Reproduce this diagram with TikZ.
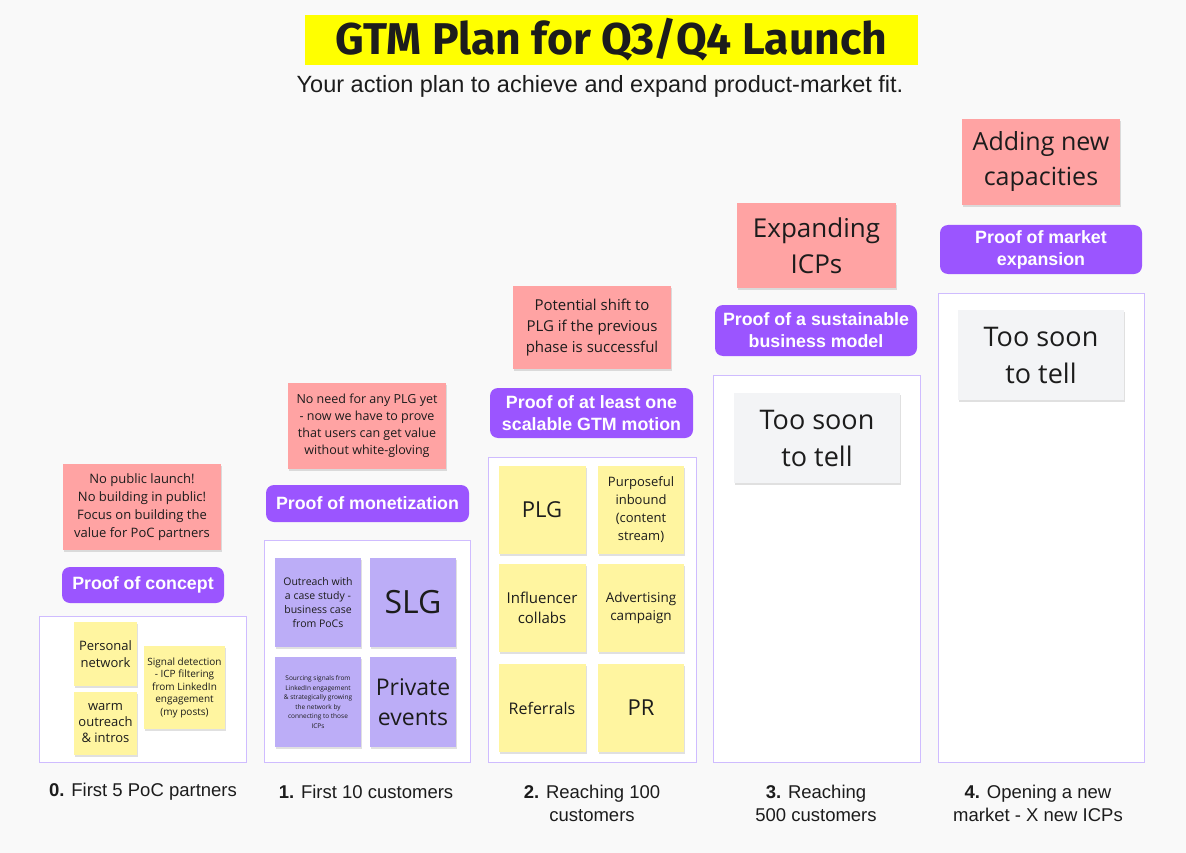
\documentclass[tikz,border=0pt]{standalone}
\usepackage{fontspec}
\setmainfont{Open Sans}
\newfontfamily\robo{Liberation Sans}
\newfontfamily\titlefont{Fira Sans}
\usetikzlibrary{shadows}
\definecolor{bg}{HTML}{F9F9F9}
\definecolor{ink}{HTML}{1C1C1C}
\definecolor{redsticky}{HTML}{FFA3A3}
\definecolor{pillpurple}{HTML}{9B55FF}
\definecolor{lav}{HTML}{CFBCFF}
\definecolor{yelsticky}{HTML}{FFF5A0}
\definecolor{vioSticky}{HTML}{BCADF7}
\definecolor{graysticky}{HTML}{F3F4F6}
\definecolor{titleyellow}{HTML}{FFFF00}
\newcommand{\fs}[2]{\fontsize{#1}{#2}\selectfont}
\tikzset{
  note/.style={inner sep=0pt, align=center, text=ink,
    drop shadow={shadow xshift=1pt, shadow yshift=-2pt, opacity=0.12, fill=black}},
  rednote/.style={note, fill=redsticky},
  yelnote/.style={note, fill=yelsticky},
  vionote/.style={note, fill=vioSticky},
  graynote/.style={note, fill=graysticky},
  pill/.style={fill=pillpurple, rounded corners=8pt, inner sep=0pt, align=center,
    text=white, font=\robo\bfseries\fs{17.8}{22}},
  stage/.style={draw=lav, line width=1pt, fill=white, inner sep=0pt},
  caption/.style={align=center, text=ink, font=\robo\fs{18.5}{23}}
}
\begin{document}
\begin{tikzpicture}[x=1pt,y=-1pt]
\useasboundingbox[fill=bg] (0,0) rectangle (1186,853);

% title
\node[fill=titleyellow, minimum width=613pt, minimum height=50pt, inner sep=0pt,
  font=\titlefont\bfseries\fs{44.5}{48}, text=ink] (title) at (611.5,40) {GTM Plan for Q3/Q4 Launch};
\node[font=\robo\fs{23.5}{28}, text=ink] (subtitle) at (600,86) {Your action plan to achieve and expand product-market fit.};

% ---------- column 0
\node[rednote, minimum width=158pt, minimum height=86pt, font=\fs{13}{18}] (r0) at (142,507)
  {No public launch!\\No building in public!\\Focus on building the\\value for PoC partners};
\node[pill, minimum width=162pt, minimum height=36pt] (p0) at (143,585) {Proof of concept};
\node[stage, minimum width=207pt, minimum height=146pt] (b0) at (142.5,689) {};
\node[yelnote, minimum width=63pt, minimum height=64pt, font=\fs{13}{17}] (s0a) at (105.5,654) {Personal\\network};
\node[yelnote, minimum width=63pt, minimum height=63pt, font=\fs{13}{16}] (s0b) at (105.5,723.5) {warm\\outreach\\\& intros};
\node[yelnote, minimum width=81pt, minimum height=83pt, font=\fs{10}{12.5}] (s0c) at (184.5,687.5)
  {Signal detection\\- ICP filtering\\from LinkedIn\\engagement\\(my posts)};
\node[caption] (l0) at (143,792) {\textbf{0.} First 5 PoC partners};

% ---------- column 1
\node[rednote, minimum width=158pt, minimum height=86pt, font=\fs{12.5}{17}] (r1) at (367,426)
  {No need for any PLG yet\\- now we have to prove\\that users can get value\\without white-gloving};
\node[pill, minimum width=203pt, minimum height=37pt] (p1) at (367.5,503.5) {Proof of monetization};
\node[stage, minimum width=206pt, minimum height=222pt] (b1) at (367,651) {};
\node[vionote, minimum width=86pt, minimum height=89pt, font=\fs{10.5}{14}] (s1a) at (318,602.5)
  {Outreach with\\a case study -\\business case\\from PoCs};
\node[vionote, minimum width=86pt, minimum height=89pt, font=\fs{32}{36}] (s1b) at (413,602.5) {SLG};
\node[vionote, minimum width=86pt, minimum height=90pt, font=\fs{6.5}{9.5}] (s1c) at (318,702)
  {Sourcing signals from\\LinkedIn engagement\\\& strategically growing\\the network by\\connecting to those\\ICPs};
\node[vionote, minimum width=86pt, minimum height=90pt, font=\fs{23}{30}] (s1d) at (413,702) {Private\\events};
\node[caption] (l1) at (366,792) {\textbf{1.} First 10 customers};

% ---------- column 2
\node[rednote, minimum width=158pt, minimum height=83pt, font=\fs{15}{21}] (r2) at (592,327.5)
  {Potential shift to\\PLG if the previous\\phase is successful};
\node[pill, minimum width=203pt, minimum height=50pt] (p2) at (591.5,413) {Proof of at least one\\scalable GTM motion};
\node[stage, minimum width=208pt, minimum height=305pt] (b2) at (592,609.5) {};
\node[yelnote, minimum width=87pt, minimum height=88pt, font=\fs{22}{26}] (s2a) at (542,510) {PLG};
\node[yelnote, minimum width=86pt, minimum height=88pt, font=\fs{13}{18}] (s2b) at (641,510)
  {Purposeful\\inbound\\(content\\stream)};
\node[yelnote, minimum width=87pt, minimum height=88pt, font=\fs{15}{20}] (s2c) at (542,608) {Influencer\\collabs};
\node[yelnote, minimum width=86pt, minimum height=88pt, font=\fs{13.5}{18}] (s2d) at (641,608) {Advertising\\campaign};
\node[yelnote, minimum width=87pt, minimum height=88pt, font=\fs{16}{20}] (s2e) at (542,708) {Referrals};
\node[yelnote, minimum width=86pt, minimum height=88pt, font=\fs{22}{26}] (s2f) at (641,708) {PR};
\node[caption] (l2) at (592,803) {\textbf{2.} Reaching 100\\customers};

% ---------- column 3
\node[rednote, minimum width=159pt, minimum height=85pt, font=\fs{26}{36}] (r3) at (816.5,245.5) {Expanding\\ICPs};
\node[pill, minimum width=202pt, minimum height=51pt] (p3) at (816,330.5) {Proof of a sustainable\\business model};
\node[stage, minimum width=207pt, minimum height=387pt] (b3) at (816.5,568.5) {};
\node[graynote, minimum width=166pt, minimum height=90pt, font=\fs{27}{37}] (g3) at (817,438) {Too soon\\to tell};
\node[caption] (l3) at (816,803) {\textbf{3.} Reaching\\500 customers};

% ---------- column 4
\node[rednote, minimum width=158pt, minimum height=86pt, font=\fs{25}{35}] (r4) at (1041,162) {Adding new\\capacities};
\node[pill, minimum width=202pt, minimum height=49pt] (p4) at (1041,249.5) {Proof of market\\expansion};
\node[stage, minimum width=206pt, minimum height=469pt] (b4) at (1041,527.5) {};
\node[graynote, minimum width=166pt, minimum height=90pt, font=\fs{27}{37}] (g4) at (1041,355) {Too soon\\to tell};
\node[caption] (l4) at (1038,803) {\textbf{4.} Opening a new\\market - X new ICPs};
\end{tikzpicture}
\end{document}
